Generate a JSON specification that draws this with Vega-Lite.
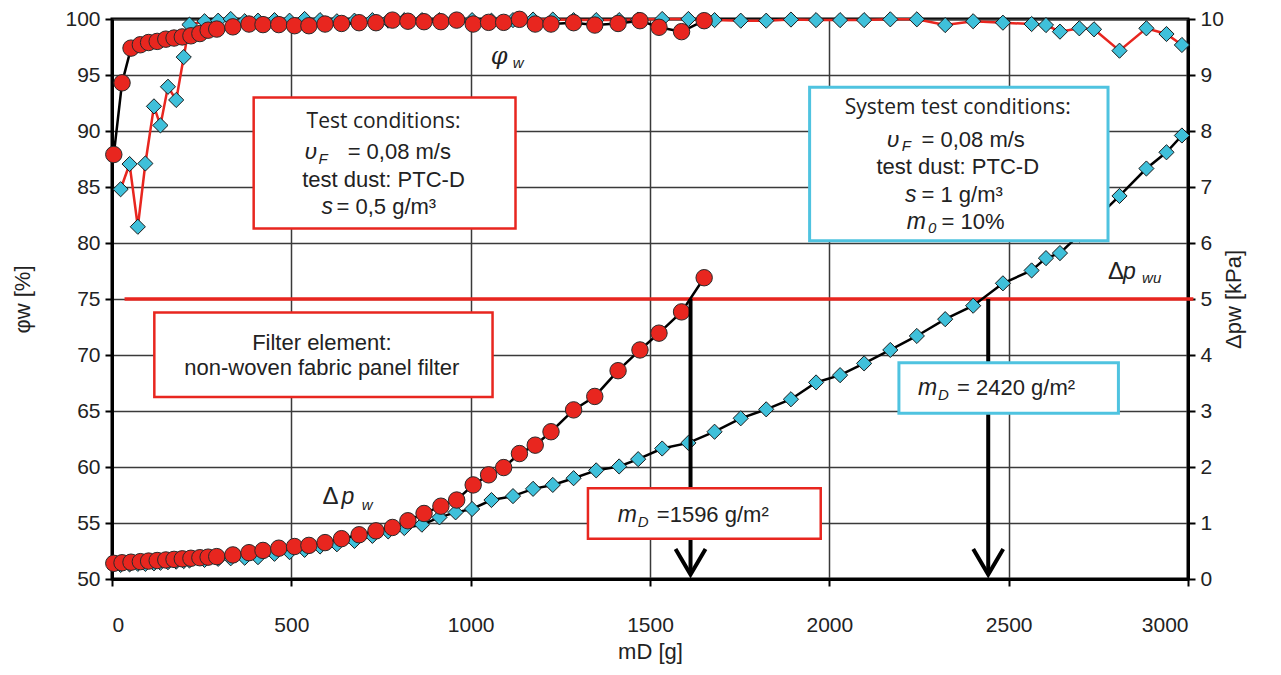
{
  "$schema": "https://vega.github.io/schema/vega-lite/v6.json",
  "width": 1076,
  "height": 560,
  "autosize": {"type": "none"},
  "padding": {"left": 112, "top": 19, "right": 93, "bottom": 96},
  "background": "white",
  "config": {
    "view": {"stroke": "black", "strokeWidth": 3},
    "axis": {
      "labelFont": "Liberation Sans Narrow, Liberation Sans",
      "labelFontSize": 21,
      "labelColor": "#222222",
      "tickColor": "black",
      "tickSize": 7,
      "tickWidth": 2,
      "domainColor": "black",
      "domainWidth": 3,
      "gridColor": "#3a3a3a",
      "gridWidth": 1.5,
      "titleFont": "Liberation Sans",
      "titleFontSize": 22,
      "titleFontWeight": "normal",
      "titleColor": "#222222"
    }
  },
  "datasets": {
    "red": [
      {"g": 5, "phi": 87.9, "dp": 0.28}, {"g": 28, "phi": 94.3, "dp": 0.29}, {"g": 53, "phi": 97.4, "dp": 0.3},
      {"g": 79, "phi": 97.7, "dp": 0.31}, {"g": 102, "phi": 97.9, "dp": 0.32}, {"g": 126, "phi": 98.0, "dp": 0.33},
      {"g": 150, "phi": 98.2, "dp": 0.34}, {"g": 173, "phi": 98.3, "dp": 0.35}, {"g": 196, "phi": 98.4, "dp": 0.36},
      {"g": 220, "phi": 98.5, "dp": 0.37}, {"g": 245, "phi": 98.7, "dp": 0.38}, {"g": 268, "phi": 99.0, "dp": 0.39},
      {"g": 292, "phi": 99.1, "dp": 0.4}, {"g": 337, "phi": 99.3, "dp": 0.43}, {"g": 382, "phi": 99.55, "dp": 0.47},
      {"g": 421, "phi": 99.5, "dp": 0.51}, {"g": 465, "phi": 99.5, "dp": 0.55}, {"g": 509, "phi": 99.4, "dp": 0.58},
      {"g": 549, "phi": 99.4, "dp": 0.6}, {"g": 594, "phi": 99.55, "dp": 0.65}, {"g": 640, "phi": 99.6, "dp": 0.72},
      {"g": 689, "phi": 99.67, "dp": 0.79}, {"g": 736, "phi": 99.67, "dp": 0.86}, {"g": 782, "phi": 99.9, "dp": 0.92},
      {"g": 825, "phi": 99.8, "dp": 1.04}, {"g": 870, "phi": 99.76, "dp": 1.17}, {"g": 917, "phi": 99.76, "dp": 1.3},
      {"g": 961, "phi": 99.9, "dp": 1.41}, {"g": 1007, "phi": 99.55, "dp": 1.68}, {"g": 1050, "phi": 99.7, "dp": 1.86},
      {"g": 1092, "phi": 99.7, "dp": 1.99}, {"g": 1136, "phi": 99.97, "dp": 2.24}, {"g": 1180, "phi": 99.55, "dp": 2.39},
      {"g": 1224, "phi": 99.55, "dp": 2.63}, {"g": 1287, "phi": 99.67, "dp": 3.02}, {"g": 1346, "phi": 99.46, "dp": 3.26},
      {"g": 1411, "phi": 99.6, "dp": 3.72}, {"g": 1472, "phi": 99.85, "dp": 4.09}, {"g": 1525, "phi": 99.26, "dp": 4.39},
      {"g": 1588, "phi": 98.87, "dp": 4.77}, {"g": 1651, "phi": 99.85, "dp": 5.38}
    ],
    "cyan": [
      {"g": 24, "phi": 84.8, "dp": 0.25}, {"g": 49, "phi": 87.05, "dp": 0.26}, {"g": 72, "phi": 81.45, "dp": 0.27},
      {"g": 93, "phi": 87.1, "dp": 0.27}, {"g": 117, "phi": 92.2, "dp": 0.28}, {"g": 135, "phi": 90.5, "dp": 0.29},
      {"g": 156, "phi": 93.95, "dp": 0.3}, {"g": 179, "phi": 92.77, "dp": 0.31}, {"g": 200, "phi": 96.6, "dp": 0.32},
      {"g": 216, "phi": 99.5, "dp": 0.33}, {"g": 258, "phi": 99.8, "dp": 0.34}, {"g": 296, "phi": 99.85, "dp": 0.36},
      {"g": 331, "phi": 100, "dp": 0.37}, {"g": 370, "phi": 99.8, "dp": 0.38}, {"g": 407, "phi": 99.85, "dp": 0.39},
      {"g": 453, "phi": 99.9, "dp": 0.45}, {"g": 495, "phi": 99.85, "dp": 0.48}, {"g": 537, "phi": 100, "dp": 0.52},
      {"g": 580, "phi": 99.9, "dp": 0.58}, {"g": 627, "phi": 99.8, "dp": 0.62}, {"g": 676, "phi": 99.85, "dp": 0.68},
      {"g": 726, "phi": 99.9, "dp": 0.77}, {"g": 770, "phi": 99.85, "dp": 0.85}, {"g": 815, "phi": 99.9, "dp": 0.91},
      {"g": 864, "phi": 99.9, "dp": 0.97}, {"g": 913, "phi": 99.9, "dp": 1.1}, {"g": 958, "phi": 99.95, "dp": 1.19},
      {"g": 1004, "phi": 99.9, "dp": 1.25}, {"g": 1058, "phi": 99.85, "dp": 1.41}, {"g": 1118, "phi": 99.9, "dp": 1.48},
      {"g": 1174, "phi": 99.95, "dp": 1.61}, {"g": 1229, "phi": 99.95, "dp": 1.68}, {"g": 1287, "phi": 99.9, "dp": 1.8},
      {"g": 1350, "phi": 99.9, "dp": 1.94}, {"g": 1414, "phi": 99.9, "dp": 2.01}, {"g": 1467, "phi": 99.95, "dp": 2.14},
      {"g": 1534, "phi": 100, "dp": 2.33}, {"g": 1607, "phi": 100, "dp": 2.43}, {"g": 1680, "phi": 99.9, "dp": 2.63},
      {"g": 1753, "phi": 99.85, "dp": 2.87}, {"g": 1824, "phi": 99.85, "dp": 3.03}, {"g": 1893, "phi": 99.95, "dp": 3.21},
      {"g": 1963, "phi": 99.9, "dp": 3.51}, {"g": 2030, "phi": 99.9, "dp": 3.64}, {"g": 2097, "phi": 99.9, "dp": 3.85},
      {"g": 2170, "phi": 99.97, "dp": 4.09}, {"g": 2244, "phi": 99.97, "dp": 4.34}, {"g": 2323, "phi": 99.46, "dp": 4.64},
      {"g": 2401, "phi": 99.8, "dp": 4.88}, {"g": 2484, "phi": 99.67, "dp": 5.28}, {"g": 2564, "phi": 99.55, "dp": 5.51},
      {"g": 2604, "phi": 99.46, "dp": 5.73}, {"g": 2643, "phi": 98.87, "dp": 5.82}, {"g": 2697, "phi": 99.17, "dp": 6.15},
      {"g": 2738, "phi": 99.08, "dp": 6.4}, {"g": 2809, "phi": 97.17, "dp": 6.84}, {"g": 2884, "phi": 99.17, "dp": 7.33},
      {"g": 2940, "phi": 98.66, "dp": 7.62}, {"g": 2983, "phi": 97.68, "dp": 7.92}
    ]
  },
  "encoding": {
    "x": {"field": "g", "type": "quantitative", "scale": {"domain": [0, 3000], "nice": false},
      "axis": {"values": [0, 500, 1000, 1500, 2000, 2500, 3000], "format": "d", "grid": true, "title": "mD [g]", "labelPadding": 28, "titlePadding": 6}}
  },
  "layer": [
    {
      "data": {"values": [{"g": 35, "v": 75}, {"g": 3015, "v": 75}]},
      "mark": {"type": "line", "color": "#e8261f", "strokeWidth": 3.5},
      "encoding": {
        "y": {"field": "v", "type": "quantitative", "scale": {"domain": [50, 100], "nice": false, "zero": false},
          "axis": {"orient": "left", "values": [50, 55, 60, 65, 70, 75, 80, 85, 90, 95, 100], "grid": true, "title": "φw [%]", "labelPadding": 5, "titlePadding": 30}}
      }
    },
    {
      "data": {"name": "cyan"},
      "mark": {"type": "line", "color": "black", "strokeWidth": 2.5},
      "encoding": {
        "y": {"field": "dp", "type": "quantitative", "scale": {"domain": [0, 10], "nice": false, "zero": false},
          "axis": {"orient": "right", "values": [0, 1, 2, 3, 4, 5, 6, 7, 8, 9, 10], "grid": false, "title": "Δpw [kPa]", "titleAngle": 270, "labelPadding": 5, "titlePadding": 22}}
      }
    },
    {
      "data": {"name": "cyan"},
      "mark": {"type": "point", "shape": "diamond", "filled": true, "fill": "#3fc0da", "stroke": "#1a1a1a", "strokeWidth": 1, "size": 230, "opacity": 1},
      "encoding": {
        "y": {"field": "dp", "type": "quantitative", "scale": {"domain": [0, 10], "nice": false, "zero": false}, "axis": null}
      }
    },
    {
      "data": {"name": "cyan"},
      "mark": {"type": "line", "color": "#e8261f", "strokeWidth": 2.5},
      "encoding": {
        "y": {"field": "phi", "type": "quantitative", "scale": {"domain": [50, 100], "nice": false, "zero": false}, "axis": null}
      }
    },
    {
      "data": {"name": "cyan"},
      "mark": {"type": "point", "shape": "diamond", "filled": true, "fill": "#3fc0da", "stroke": "#1a1a1a", "strokeWidth": 1, "size": 230, "opacity": 1},
      "encoding": {
        "y": {"field": "phi", "type": "quantitative", "scale": {"domain": [50, 100], "nice": false, "zero": false}, "axis": null}
      }
    },
    {
      "data": {"name": "red"},
      "mark": {"type": "line", "color": "black", "strokeWidth": 2.5},
      "encoding": {
        "y": {"field": "dp", "type": "quantitative", "scale": {"domain": [0, 10], "nice": false, "zero": false}, "axis": null}
      }
    },
    {
      "data": {"name": "red"},
      "mark": {"type": "point", "shape": "circle", "filled": true, "fill": "#e8261f", "stroke": "#2a2a2a", "strokeWidth": 1, "size": 270, "opacity": 1},
      "encoding": {
        "y": {"field": "dp", "type": "quantitative", "scale": {"domain": [0, 10], "nice": false, "zero": false}, "axis": null}
      }
    },
    {
      "data": {"name": "red"},
      "mark": {"type": "line", "color": "black", "strokeWidth": 2.5},
      "encoding": {
        "y": {"field": "phi", "type": "quantitative", "scale": {"domain": [50, 100], "nice": false, "zero": false}, "axis": null}
      }
    },
    {
      "data": {"name": "red"},
      "mark": {"type": "point", "shape": "circle", "filled": true, "fill": "#e8261f", "stroke": "#2a2a2a", "strokeWidth": 1, "size": 270, "opacity": 1},
      "encoding": {
        "y": {"field": "phi", "type": "quantitative", "scale": {"domain": [50, 100], "nice": false, "zero": false}, "axis": null}
      }
    },
    {
      "data": {"values": [{"g": 1613, "v": 75, "v2": 50.5}, {"g": 2443, "v": 75, "v2": 50.5}]},
      "mark": {"type": "rule", "color": "black", "strokeWidth": 4},
      "encoding": {
        "y": {"field": "v", "type": "quantitative", "scale": {"domain": [50, 100], "nice": false, "zero": false}, "axis": null},
        "y2": {"field": "v2"}
      }
    },
    {
      "data": {"values": [{"g": 1613, "v": 50.4}, {"g": 2443, "v": 50.4}]},
      "mark": {"type": "point", "shape": "M-1,-1.7L0,0L1,-1.7", "size": 900, "filled": false, "stroke": "black", "strokeWidth": 4, "opacity": 1},
      "encoding": {
        "y": {"field": "v", "type": "quantitative", "scale": {"domain": [50, 100], "nice": false, "zero": false}, "axis": null}
      }
    },
    {
      "data": {"values": [
        {"g": 395, "g2": 1125, "v": 93.0, "v2": 81.3},
        {"g": 118, "g2": 1061, "v": 73.8, "v2": 66.25},
        {"g": 1327, "g2": 1976, "v": 58.1, "v2": 53.6}
      ]},
      "mark": {"type": "rect", "fill": "white", "stroke": "#e8261f", "strokeWidth": 2.5},
      "encoding": {
        "x2": {"field": "g2"},
        "y": {"field": "v", "type": "quantitative", "scale": {"domain": [50, 100], "nice": false, "zero": false}, "axis": null},
        "y2": {"field": "v2"}
      }
    },
    {
      "data": {"values": [
        {"g": 1945, "g2": 2777, "v": 93.9, "v2": 80.2},
        {"g": 2194, "g2": 2806, "v": 69.3, "v2": 64.8}
      ]},
      "mark": {"type": "rect", "fill": "white", "stroke": "#4fc3e0", "strokeWidth": 3},
      "encoding": {
        "x2": {"field": "g2"},
        "y": {"field": "v", "type": "quantitative", "scale": {"domain": [50, 100], "nice": false, "zero": false}, "axis": null},
        "y2": {"field": "v2"}
      }
    },
    {
      "data": {"values": [
        {"g": 757, "v": 90.8, "t": "Test conditions:"},
        {"g": 2358, "v": 92.05, "t": "System test conditions:"}
      ]},
      "mark": {"type": "text", "font": "Open Sans", "fontSize": 21, "align": "center", "baseline": "middle", "color": "#222222"},
      "encoding": {
        "y": {"field": "v", "type": "quantitative", "scale": {"domain": [50, 100], "nice": false, "zero": false}, "axis": null},
        "text": {"field": "t"}
      }
    },
    {
      "data": {"values": [
        {"g": 757, "v": 85.6, "t": "test dust: PTC-D"},
        {"g": 2358, "v": 86.8, "t": "test dust: PTC-D"},
        {"g": 585, "v": 71.07, "t": "Filter element:"},
        {"g": 585, "v": 68.84, "t": "non-woven fabric panel filter"}
      ]},
      "mark": {"type": "text", "font": "Liberation Sans", "fontSize": 22, "align": "center", "baseline": "middle", "color": "#222222"},
      "encoding": {
        "y": {"field": "v", "type": "quantitative", "scale": {"domain": [50, 100], "nice": false, "zero": false}, "axis": null},
        "text": {"field": "t"}
      }
    },
    {
      "data": {"values": [
        {"g": 657, "v": 88.13, "t": "= 0,08 m/s"},
        {"g": 626, "v": 83.2, "t": "= 0,5 g/m³"},
        {"g": 2257, "v": 89.2, "t": "= 0,08 m/s"},
        {"g": 2257, "v": 84.3, "t": "= 1 g/m³"},
        {"g": 2313, "v": 81.9, "t": "= 10%"},
        {"g": 1519, "v": 55.7, "t": "=1596 g/m²"},
        {"g": 2356, "v": 67.05, "t": "= 2420 g/m²"}
      ]},
      "mark": {"type": "text", "font": "Liberation Sans", "fontSize": 22, "align": "left", "baseline": "middle", "color": "#222222"},
      "encoding": {
        "y": {"field": "v", "type": "quantitative", "scale": {"domain": [50, 100], "nice": false, "zero": false}, "axis": null},
        "text": {"field": "t"}
      }
    },
    {
      "data": {"values": [
        {"g": 537, "v": 88.13, "t": "υ"},
        {"g": 584, "v": 83.2, "t": "s"},
        {"g": 2160, "v": 89.2, "t": "υ"},
        {"g": 2211, "v": 84.3, "t": "s"},
        {"g": 2216, "v": 81.9, "t": "m"},
        {"g": 1410, "v": 55.7, "t": "m"},
        {"g": 2247, "v": 67.05, "t": "m"},
        {"g": 640, "v": 57.3, "t": "p"},
        {"g": 2819, "v": 77.4, "t": "p"}
      ]},
      "mark": {"type": "text", "font": "Liberation Sans", "fontSize": 23, "fontStyle": "italic", "align": "left", "baseline": "middle", "color": "#222222"},
      "encoding": {
        "y": {"field": "v", "type": "quantitative", "scale": {"domain": [50, 100], "nice": false, "zero": false}, "axis": null},
        "text": {"field": "t"}
      }
    },
    {
      "data": {"values": [
        {"g": 587, "v": 57.3, "t": "Δ"},
        {"g": 2777, "v": 77.4, "t": "Δ"}
      ]},
      "mark": {"type": "text", "font": "Liberation Sans", "fontSize": 24, "align": "left", "baseline": "middle", "color": "#222222"},
      "encoding": {
        "y": {"field": "v", "type": "quantitative", "scale": {"domain": [50, 100], "nice": false, "zero": false}, "axis": null},
        "text": {"field": "t"}
      }
    },
    {
      "data": {"values": [
        {"g": 1056, "v": 96.6, "t": "φ"}
      ]},
      "mark": {"type": "text", "font": "DejaVu Serif", "fontSize": 24, "fontStyle": "italic", "align": "left", "baseline": "middle", "color": "#222222"},
      "encoding": {
        "y": {"field": "v", "type": "quantitative", "scale": {"domain": [50, 100], "nice": false, "zero": false}, "axis": null},
        "text": {"field": "t"}
      }
    },
    {
      "data": {"values": [
        {"g": 576, "v": 87.5, "t": "F"},
        {"g": 2202, "v": 88.66, "t": "F"},
        {"g": 2275, "v": 81.3, "t": "0"},
        {"g": 1466, "v": 55.1, "t": "D"},
        {"g": 2303, "v": 66.4, "t": "D"},
        {"g": 1117, "v": 96.1, "t": "w"},
        {"g": 696, "v": 56.6, "t": "w"},
        {"g": 2872, "v": 76.9, "t": "wu"}
      ]},
      "mark": {"type": "text", "font": "Liberation Sans", "fontSize": 15, "fontStyle": "italic", "align": "left", "baseline": "middle", "color": "#222222"},
      "encoding": {
        "y": {"field": "v", "type": "quantitative", "scale": {"domain": [50, 100], "nice": false, "zero": false}, "axis": null},
        "text": {"field": "t"}
      }
    }
  ],
  "resolve": {"scale": {"y": "independent"}}
}
